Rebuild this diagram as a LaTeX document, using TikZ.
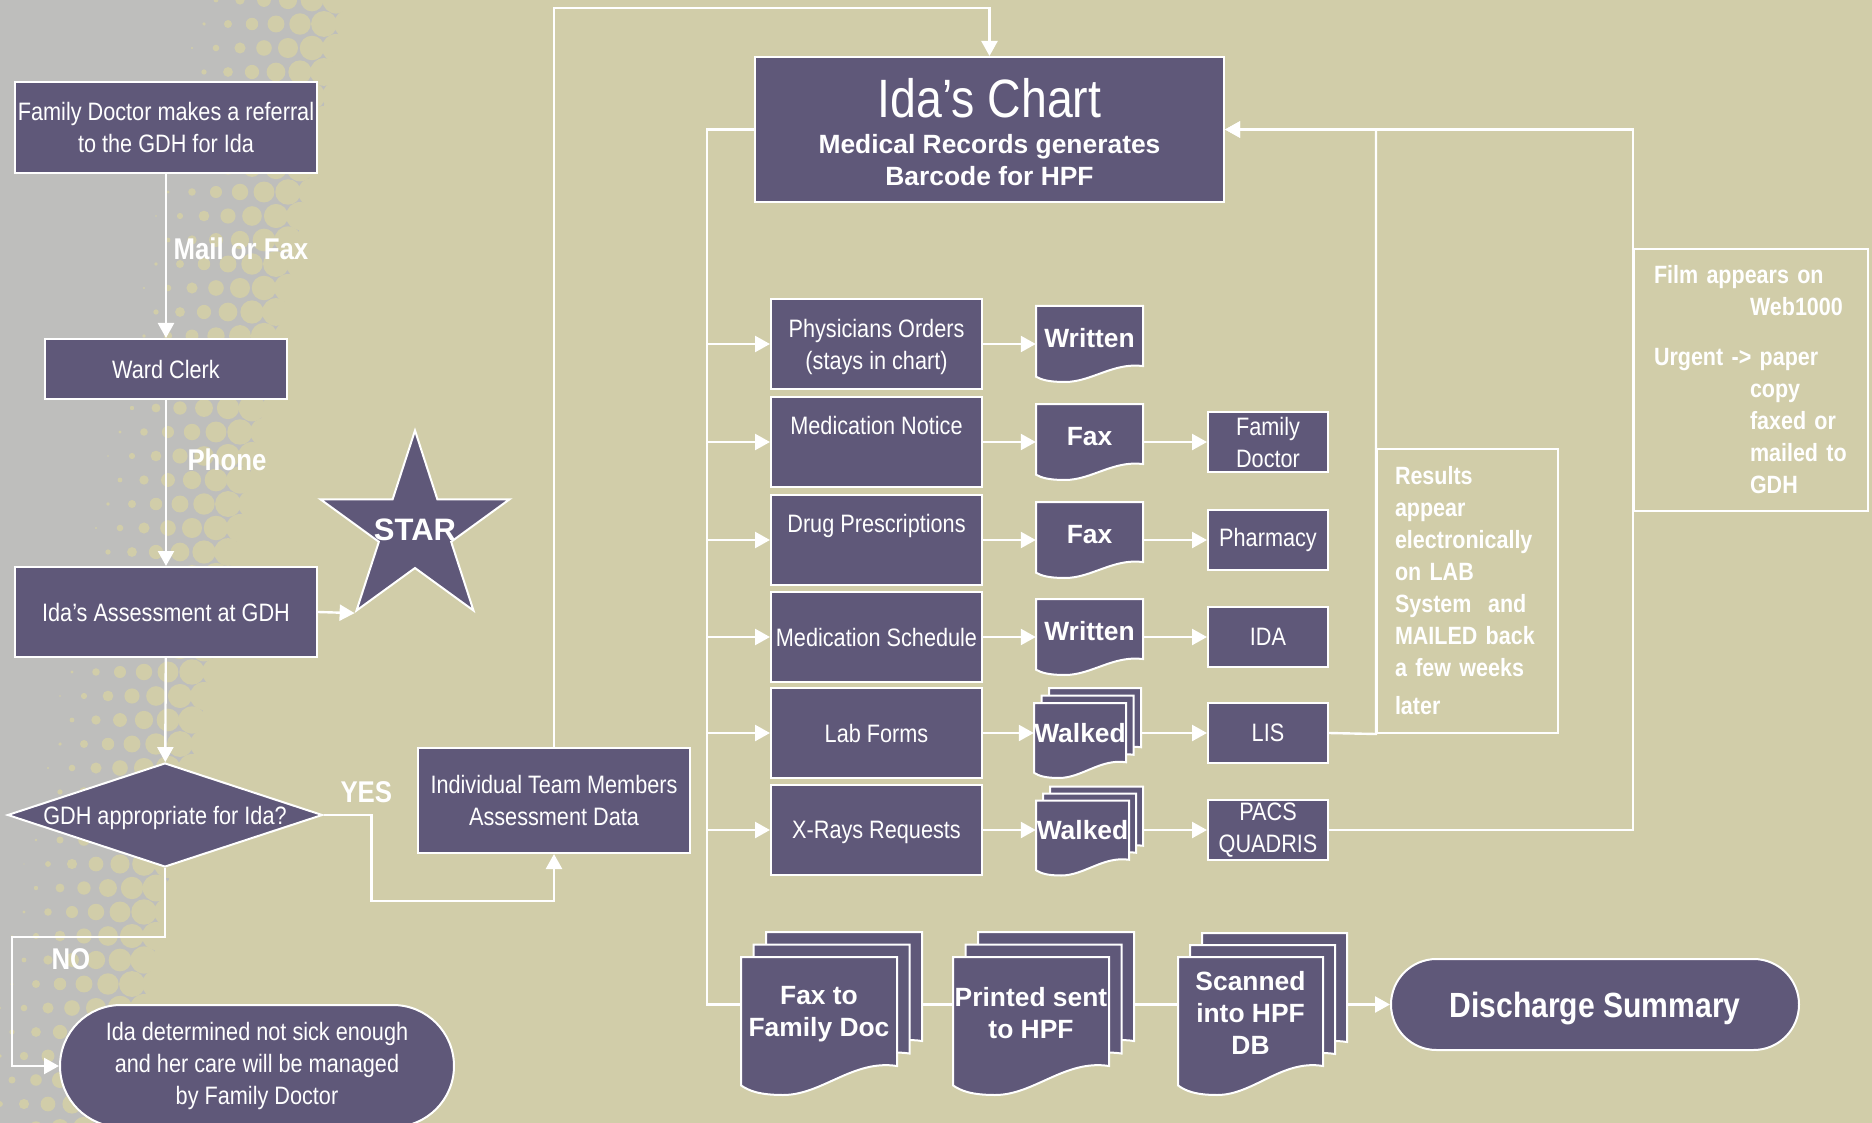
\documentclass[tikz,border=0pt]{standalone}
\usepackage{fontspec}
\setmainfont{Liberation Sans}[FakeStretch=0.86]
\newfontfamily\widefont{Liberation Sans}
\usetikzlibrary{arrows.meta, shapes.geometric, shapes.misc}
\definecolor{bgtan}{HTML}{D1CDA9}
\definecolor{bggray}{HTML}{BEBEBC}
\definecolor{plum}{HTML}{5F5879}
\tikzset{
  flow/.style={white, line width=2.4pt},
  arr/.style={flow, -{Triangle[width=16pt,length=15pt]}},
  box/.style={draw=white, line width=2pt, fill=plum, text=white, inner sep=0pt,
    align=center, font=\fontsize{25.2}{32}\selectfont},
  note/.style={draw=white, line width=2pt, text=white, inner sep=0pt, inner xsep=16pt,
    anchor=north west, align=left, font=\bfseries\fontsize{25}{32}\selectfont},
  doclabel/.style={text=white, inner sep=0pt, align=center,
    font=\widefont\bfseries\fontsize{26.4}{32}\selectfont},
  tag/.style={text=white, anchor=west, font=\bfseries\fontsize{30}{36}\selectfont},
  docline/.style={draw=white, line width=2pt, fill=plum},
}
% document shape: top left x, y, width, height
\newcommand\docshape[4]{%
  \filldraw[docline] (#1,#2) -- ({#1+#3},#2) -- ({#1+#3},{#2+0.79*#4})
    .. controls ({#1+0.72*#3},{#2+0.74*#4}) and ({#1+0.52*#3},{#2+#4}) .. ({#1+0.27*#3},{#2+#4})
    .. controls ({#1+0.12*#3},{#2+#4}) and ({#1+0.05*#3},{#2+0.97*#4}) .. (#1,{#2+0.93*#4}) -- cycle;}
% three stacked documents, last argument is the offset
\newcommand\docstack[5]{%
  \docshape{#1+2*#5}{#2-2*#5}{#3}{#4}
  \docshape{#1+#5}{#2-#5}{#3}{#4}
  \docshape{#1}{#2}{#3}{#4}}

\begin{document}
\begin{tikzpicture}[x=1pt, y=-1pt]
  \useasboundingbox (0,0) rectangle (1872,1123);

  % background
  \fill[bgtan] (0,0) rectangle (1872,1123);
  \fill[bggray] (0,0) -- (345,0) -- (120,1123) -- (0,1123) -- cycle;
  \foreach \i in {0,...,17} {
    \foreach \j in {0,...,47} {
      \pgfmathsetmacro\dx{24*\i + 12*mod(\j,2)}
      \pgfmathsetmacro\dy{24*\j}
      \pgfmathsetmacro\dr{min(14,max(0,14*(\dx - 190 + 0.2*\dy)/150))}
      \ifdim\dr pt>0.5pt \fill[bgtan] (\dx,\dy) circle[radius=\dr]; \fi
    }
  }

  % left column
  \node[box, minimum width=302pt, minimum height=91pt] (referral) at (166,127.5)
    {Family Doctor makes a referral\\to the GDH for Ida};
  \node[box, minimum width=242pt, minimum height=60pt] (clerk) at (166,369) {Ward Clerk};
  \node[box, minimum width=302pt, minimum height=90pt] (assess) at (166,612) {Ida’s Assessment at GDH};
  \node[box, diamond, aspect=3.03, minimum width=315pt, minimum height=104pt, text depth=-3pt] (gdh) at (165,815)
    {GDH appropriate for Ida?};
  \node[box, rounded rectangle, minimum width=394pt, minimum height=122pt] (notsick) at (257,1066)
    {Ida determined not sick enough\\and her care will be managed\\by Family Doctor};
  \node[star, star points=5, star point ratio=2.618, minimum size=199pt, inner sep=0pt,
    fill=plum, draw=white, line width=2pt] (star) at (415,530) {};
  \node[text=white, font=\widefont\bfseries\fontsize{31}{36}\selectfont] (startext) at (star.center) {STAR};
  \node[box, minimum width=272pt, minimum height=105pt] (team) at (554,800.5)
    {Individual Team Members\\Assessment Data};

  % labels
  \node[tag] (mailfax) at (170,249) {Mail or Fax};
  \node[tag] (phone) at (184,460) {Phone};
  \node[tag] (yes) at (337,792) {YES};
  \node[tag] (no) at (48,959) {NO};

  % chart
  \node[box, minimum width=469pt, minimum height=145pt,
    font=\widefont\bfseries\fontsize{26.4}{32}\selectfont] (chart) at (989.5,129.5)
    {{\rmfamily\mdseries\fontsize{54}{58}\selectfont\rule{0pt}{45pt}Ida’s Chart}\\[4pt]Medical Records generates\\Barcode for HPF};
  \coordinate (trunk) at (707,129.5);

  % orders
  \node[box, minimum width=211pt, minimum height=90pt, text depth=0pt] (phys) at (876.5,344) {Physicians Orders\\(stays in chart)};
  \node[box, minimum width=211pt, minimum height=90pt] (mednote) at (876.5,442) {Medication Notice\\[-9pt]\strut};
  \node[box, minimum width=211pt, minimum height=90pt] (drug) at (876.5,540) {Drug Prescriptions\\[-9pt]\strut};
  \node[box, minimum width=211pt, minimum height=90pt] (medsched) at (876.5,637) {Medication Schedule};
  \node[box, minimum width=211pt, minimum height=90pt] (lab) at (876.5,733) {Lab Forms};
  \node[box, minimum width=211pt, minimum height=90pt, text depth=0pt] (xray) at (876.5,830) {X-Rays Requests};

  % documents
  \docshape{1036}{306}{107}{76}
  \docshape{1036}{404}{107}{76}
  \docshape{1036}{502}{107}{76}
  \docshape{1036}{599}{107}{76}
  \docstack{1034}{703}{92}{75}{7.5}
  \docstack{1036}{800.5}{93}{75}{7}
  \node[doclabel, minimum width=107pt, minimum height=60pt, text depth=12pt] (wr1) at (1089.5,344) {Written};
  \node[doclabel, minimum width=107pt, minimum height=60pt, text depth=12pt] (fax1) at (1089.5,442) {Fax};
  \node[doclabel, minimum width=107pt, minimum height=60pt, text depth=12pt] (fax2) at (1089.5,540) {Fax};
  \node[doclabel, minimum width=107pt, minimum height=60pt, text depth=12pt] (wr2) at (1089.5,637) {Written};
  \node[doclabel, minimum width=92pt, minimum height=60pt] (walk1) at (1080,733) {Walked};
  \node[doclabel, minimum width=93pt, minimum height=60pt, text depth=-2pt] (walk2) at (1082.5,830) {Walked};
  \coordinate (walk1r) at (1141,733);
  \coordinate (walk2r) at (1144,830);

  % receivers
  \node[box, minimum width=120pt, minimum height=60pt] (famdoc) at (1268,442) {Family\\Doctor};
  \node[box, minimum width=120pt, minimum height=60pt] (pharm) at (1268,540) {Pharmacy};
  \node[box, minimum width=120pt, minimum height=60pt] (ida) at (1268,637) {IDA};
  \node[box, minimum width=120pt, minimum height=60pt] (lis) at (1268,733) {LIS};
  \node[box, minimum width=120pt, minimum height=60pt] (pacs) at (1268,830) {PACS\\QUADRIS};

  % notes
  \node[note, inner xsep=18pt, text width=145pt, minimum height=284pt] (results) at (1376,448)
    {Results\\appear\\electronically\\on LAB\\System\ \ and\\MAILED back\\a few weeks\\[6pt]later};
  \node[note, inner xsep=20pt, text width=194pt, minimum height=262pt] (film) at (1633,248)
    {Film appears on\\\hspace*{96pt}Web1000\\[18pt]Urgent -> paper\\\hspace*{96pt}copy\\
     \hspace*{96pt}faxed or\\\hspace*{96pt}mailed to\\\hspace*{96pt}GDH};

  % discharge
  \docstack{741}{957}{156}{138}{12.5}
  \docstack{953}{957}{156}{138}{12.5}
  \docstack{1178}{957}{145}{138}{12}
  \node[doclabel, minimum width=156pt] (fdoc1) at (819,1014) {Fax to\\Family Doc};
  \node[doclabel, minimum width=156pt] (fdoc2) at (1031,1013) {Printed sent\\to HPF};
  \node[doclabel, minimum width=145pt] (fdoc3) at (1250.5,1013) {Scanned\\into HPF\\DB};
  \coordinate (fdoc1r) at (922,1004.5);
  \coordinate (fdoc2r) at (1133,1004.5);
  \coordinate (fdoc3r) at (1346,1004.5);
  \node[box, rounded rectangle, minimum width=408pt, minimum height=91pt, text depth=-2pt,
    font=\bfseries\fontsize{35}{40}\selectfont] (discharge) at (1595,1004.5) {Discharge Summary};

  % connectors
  \draw[arr] (referral) -- (clerk);
  \draw[arr] (clerk) -- (assess);
  \draw[arr] (assess.east) -- (star.outer point 3);
  \draw[arr] (assess) -- (gdh);
  \draw[arr] (gdh.east) -- ++(48,0) -- ++(0,86) -| (team.south);
  \draw[arr] (gdh.south) -- ++(0,69) -- ++(-153,0) |- (notsick.west);
  \draw[arr] (team.north) -- ++(0,-739) -| (chart.north);
  \draw[flow] (chart.west) -- (trunk) |- (fdoc1.west |- discharge.west);
  \foreach \b in {phys,mednote,drug,medsched,lab,xray}
    \draw[arr] (\b.west -| trunk) -- (\b.west);
  \draw[arr] (phys) -- (wr1);
  \draw[arr] (mednote) -- (fax1);
  \draw[arr] (drug) -- (fax2);
  \draw[arr] (medsched) -- (wr2);
  \draw[arr] (lab) -- (walk1);
  \draw[arr] (xray) -- (walk2);
  \draw[arr] (fax1) -- (famdoc);
  \draw[arr] (fax2) -- (pharm);
  \draw[arr] (wr2) -- (ida);
  \draw[arr] (walk1r) -- (lis);
  \draw[arr] (walk2r) -- (pacs);
  \draw[arr] (lis.east) -- (results.south west) |- (chart.east);
  \draw[arr] (pacs.east) -| (film.north west) |- (chart.east);
  \draw[flow] (fdoc1r) -- (fdoc2.west |- discharge.west);
  \draw[flow] (fdoc2r) -- (fdoc3.west |- discharge.west);
  \draw[arr] (fdoc3r) -- (discharge.west);
\end{tikzpicture}
\end{document}
